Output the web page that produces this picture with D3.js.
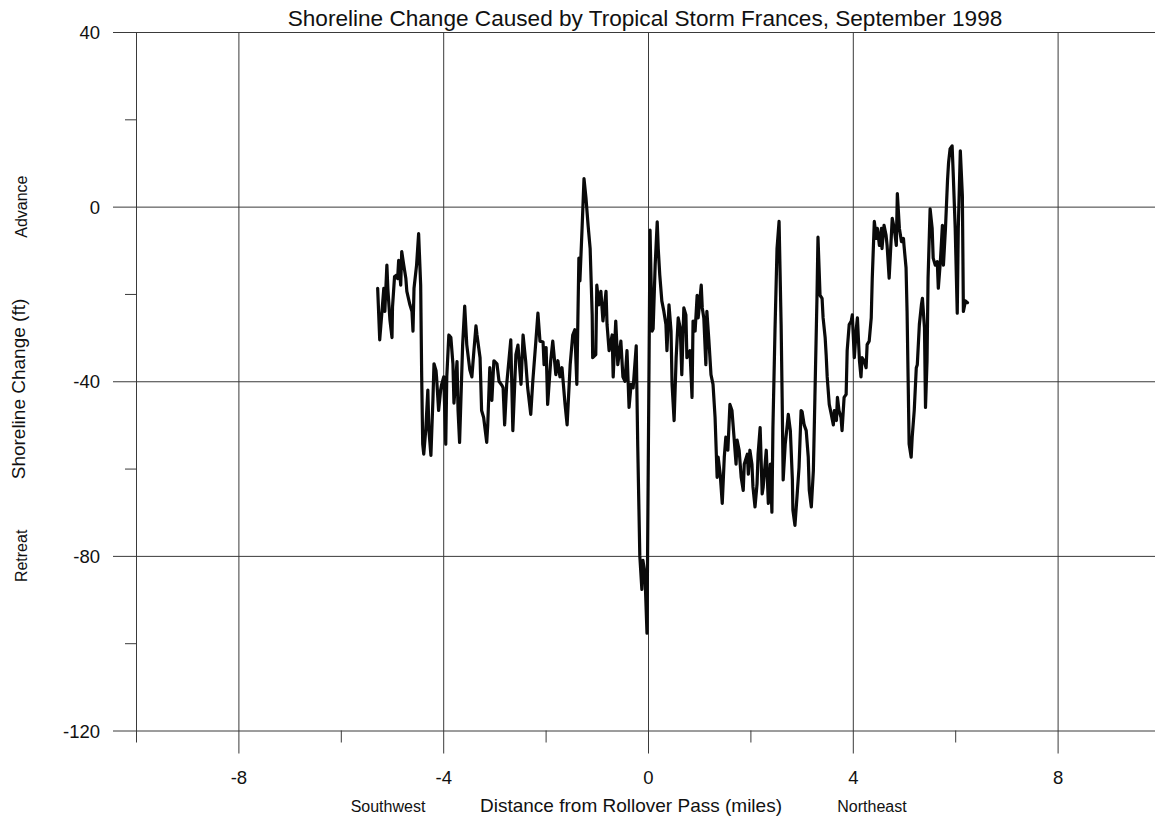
<!DOCTYPE html>
<html>
<head>
<meta charset="utf-8">
<script src="https://cdn.jsdelivr.net/npm/d3@7"></script>
<style>
  html, body { margin: 0; padding: 0; background: #ffffff; }
  svg { display: block; font-family: "Liberation Sans", Arial, Helvetica, sans-serif; }
</style>
</head>
<body>
<svg id="chart" width="1155" height="819"></svg>
<script>
// Shoreline change along the coast, measured from Rollover Pass
const milesFromPass = [
  -5.28,-5.24,-5.16,-5.14,-5.10,-5.08,-5.04,-5.00,-4.99,-4.95,
  -4.91,-4.89,-4.87,-4.83,-4.81,-4.77,-4.73,-4.71,-4.65,-4.61,
  -4.59,-4.57,-4.52,-4.48,-4.44,-4.42,-4.40,-4.38,-4.34,-4.30,
  -4.28,-4.24,-4.20,-4.18,-4.14,-4.13,-4.09,-4.05,-4.03,-3.99,
  -3.95,-3.93,-3.89,-3.85,-3.81,-3.79,-3.73,-3.71,-3.68,-3.64,
  -3.62,-3.58,-3.54,-3.48,-3.44,-3.40,-3.36,-3.34,-3.28,-3.25,
  -3.21,-3.15,-3.13,-3.09,-3.05,-3.01,-2.95,-2.91,-2.85,-2.83,
  -2.80,-2.76,-2.68,-2.64,-2.58,-2.54,-2.48,-2.44,-2.39,-2.35,
  -2.29,-2.25,-2.19,-2.15,-2.11,-2.05,-2.03,-1.99,-1.96,-1.90,
  -1.86,-1.80,-1.76,-1.72,-1.68,-1.62,-1.58,-1.52,-1.47,-1.43,
  -1.39,-1.37,-1.35,-1.33,-1.29,-1.25,-1.21,-1.17,-1.13,-1.09,
  -1.08,-1.02,-1.00,-0.96,-0.92,-0.88,-0.82,-0.80,-0.76,-0.70,
  -0.68,-0.63,-0.59,-0.53,-0.49,-0.45,-0.41,-0.37,-0.33,-0.29,
  -0.23,-0.20,-0.16,-0.12,-0.10,-0.06,-0.02,
  0.04,0.08,0.10,0.14,0.18,0.20,0.23,0.27,0.31,0.35,
  0.37,0.41,0.45,0.47,0.51,0.55,0.59,0.63,0.66,0.70,
  0.74,0.76,0.82,0.86,0.88,0.92,0.96,0.98,1.04,1.06,
  1.09,1.13,1.15,1.19,1.23,1.27,1.31,1.35,1.37,1.41,
  1.45,1.49,1.52,1.56,1.60,1.64,1.68,1.72,1.74,1.78,
  1.82,1.86,1.88,1.94,1.96,1.99,2.03,2.05,2.09,2.13,
  2.15,2.19,2.23,2.25,2.31,2.35,2.39,2.42,2.44,2.48,
  2.52,2.56,2.60,2.62,2.64,2.68,2.72,2.74,2.78,2.82,
  2.83,2.87,2.91,2.95,2.99,3.01,3.05,3.09,3.13,3.15,
  3.19,3.23,3.26,3.30,3.32,3.36,3.40,3.42,3.46,3.48,
  3.50,3.54,3.58,3.62,3.64,3.68,3.70,3.73,3.77,3.79,
  3.83,3.87,3.89,3.93,3.97,3.99,4.03,4.07,4.09,4.13,
  4.16,4.18,4.22,4.26,4.28,4.32,4.36,4.38,4.42,4.46,
  4.48,4.52,4.56,4.57,4.61,4.65,4.67,4.71,4.75,4.77,
  4.81,4.85,4.87,4.91,4.95,4.99,5.00,5.04,5.06,5.08,
  5.10,5.14,5.16,5.20,5.24,5.26,5.30,5.34,5.36,5.40,
  5.42,5.45,5.47,5.51,5.55,5.57,5.61,5.65,5.67,5.71,
  5.75,5.77,5.81,5.85,5.87,5.90,5.94,5.96,6.00,6.04,
  6.06,6.10,6.14,6.16,6.20,6.24
];

const shorelineChangeFt = [
  -18.7,-30.5,-18.7,-24,-13.4,-19,-26,-30,-23,-16,
  -15.7,-16.5,-12.3,-18,-10.3,-13.4,-16.4,-19.4,-22.5,-24,
  -28.5,-18.7,-13.4,-6.2,-18,-39,-54.4,-56.7,-51,-42,
  -51,-57,-44,-36,-37.6,-39,-46.7,-42,-40.7,-39,
  -54.4,-39,-29.4,-30,-36,-45,-35.5,-46.7,-54,-39,
  -31.6,-22.8,-31.6,-37.4,-39,-33,-27.3,-29.4,-34.6,-46.7,
  -48.3,-54,-50,-36.9,-44.4,-35.3,-36,-40,-41,-41.5,
  -50,-40.7,-30.5,-51.3,-33.9,-31.7,-40.7,-29.4,-35.3,-41.5,
  -47.6,-40,-30.8,-24.4,-30.8,-31,-36.2,-32.3,-45.3,-35.3,
  -30.8,-38.5,-35.3,-39,-36.9,-45.3,-50,-36.2,-29.4,-28.2,
  -40.7,-26.2,-11.8,-17,-5.7,6.4,1.8,-4.3,-9.6,-24.8,
  -34.6,-33.9,-18,-22.5,-19.4,-26.2,-19.4,-27,-33,-29.4,
  -39,-26.2,-36.2,-30.8,-39,-40,-33,-46,-40.7,-41.5,
  -31.9,-55,-80,-87.7,-81,-84,-97.7,
  -5.4,-28.5,-28,-13.4,-3.5,-9.6,-15.7,-21.6,-24,-27,
  -33,-22.5,-28.5,-40.7,-49,-34.6,-25.5,-27.8,-38.5,-23.2,
  -24.8,-34.6,-33,-43.7,-26.2,-28.5,-20.3,-25.5,-18,-23.2,
  -25.5,-36.2,-24,-30.8,-38.5,-40.7,-48.3,-62,-57.4,-61.3,
  -68,-57.4,-52.8,-55.8,-45.3,-46.7,-52.8,-59,-53.5,-55.8,
  -62,-65,-59,-56.7,-61.3,-55.8,-59,-64.2,-68.8,-63.5,
  -56.7,-50.6,-65.8,-64.2,-55.8,-68,-59,-70,-50.6,-28.5,
  -9.6,-3.4,-27,-43.7,-62.6,-54.4,-50,-47.6,-51.3,-62.6,
  -69.5,-73,-66.5,-59.7,-46.7,-47,-50,-51.3,-57.4,-65,
  -68.8,-60.4,-43.7,-21,-7,-20.3,-21,-25.5,-30,-34,
  -39,-45.3,-47.6,-50,-46.7,-49,-43.7,-46.7,-48.3,-51.3,
  -43.7,-43,-33,-27,-26.2,-24.8,-34.6,-27.8,-25.5,-35.3,
  -39,-34.6,-35.3,-36.9,-31.6,-30.8,-25.5,-16.4,-3.4,-7.3,
  -5,-8.9,-5,-9.6,-4.3,-6.6,-8.9,-16.4,-7.3,-2.7,
  -5,-8.9,3,-5,-8,-7.3,-8.9,-14,-24,-39,
  -54.4,-57.4,-52.8,-46.7,-36.9,-36.2,-27,-22.5,-21,-27.8,
  -46,-35.3,-16.4,-0.5,-5,-11.8,-13.4,-12.6,-18.7,-12.6,
  -4.3,-13.4,-5,6,10,13.2,13.9,8,-5,-24.4,
  -5,12.8,2.5,-24,-21.6,-22
];

// Axis ticks
const xMajorTicks = [-8, -4, 0, 4, 8];
const xMinorTicks = [-10, -6, -2, 2, 6, 10];
const yMajorTicks = [40, 0, -40, -80, -120];
const yMinorTicks = [20, -20, -60, -100];

const points = milesFromPass.map((m, i) => ({ m, ft: shorelineChangeFt[i] }));

const svg = d3.select("#chart");
const plot = { left: 136, right: 1160, top: 32, bottom: 730.5 };

const x = d3.scaleLinear().domain([-10, 10]).range([plot.left, plot.right]);
const y = d3.scaleLinear().domain([-120, 40]).range([plot.bottom, plot.top]);

const gridColor = "#3a3a3a";
const labelFont = "'Liberation Sans', Arial, sans-serif";
const plainNumber = d => String(d);   // hyphen-minus, as in the printed axis
const plotH = plot.bottom - plot.top;
const plotW = plot.right - plot.left;

// Horizontal grid lines with long major ticks and labels on the left
const yMajor = svg.append("g")
  .attr("transform", `translate(${plot.left},0)`)
  .call(d3.axisLeft(y).tickValues(yMajorTicks).tickSizeInner(-plotW).tickSizeOuter(0).tickPadding(36).tickFormat(plainNumber));
yMajor.select(".domain").remove();
yMajor.selectAll(".tick line").attr("x1", -23).attr("x2", plotW).attr("stroke", gridColor);
yMajor.selectAll(".tick text")
  .attr("fill", "#111")
  .style("font-size", "18.5px")
  .style("font-family", labelFont)
  .attr("dy", "0.36em");

// Minor y ticks
const yMinor = svg.append("g")
  .attr("transform", `translate(${plot.left},0)`)
  .call(d3.axisLeft(y).tickValues(yMinorTicks).tickSize(11).tickFormat(""));
yMinor.select(".domain").remove();
yMinor.selectAll(".tick line").attr("stroke", gridColor);

// Vertical grid lines with major ticks and labels below
const xMajor = svg.append("g")
  .attr("transform", `translate(0,${plot.bottom})`)
  .call(d3.axisBottom(x).tickValues(xMajorTicks).tickSizeInner(23).tickSizeOuter(0).tickPadding(17).tickFormat(plainNumber));
xMajor.select(".domain").remove();
xMajor.selectAll(".tick line").attr("y1", -plotH).attr("y2", 23).attr("stroke", gridColor);
xMajor.selectAll(".tick text")
  .attr("fill", "#111")
  .style("font-size", "18.5px")
  .style("font-family", labelFont);

// Minor x ticks; the outer ones also frame the plot
const xMinor = svg.append("g")
  .attr("transform", `translate(0,${plot.bottom})`)
  .call(d3.axisBottom(x).tickValues(xMinorTicks).tickSize(12).tickFormat(""));
xMinor.select(".domain").remove();
xMinor.selectAll(".tick line")
  .attr("stroke", gridColor)
  .attr("y1", d => (d === -10 || d === 10) ? -plotH : 0);

// Shoreline change trace
const line = d3.line().x(d => x(d.m)).y(d => y(d.ft));
svg.append("path")
  .datum(points)
  .attr("d", line)
  .attr("fill", "none")
  .attr("stroke", "#0a0a0a")
  .attr("stroke-width", 3.2)
  .attr("stroke-linejoin", "round")
  .attr("stroke-linecap", "round");

// Title
svg.append("text")
  .attr("x", 645).attr("y", 26)
  .attr("text-anchor", "middle")
  .style("font-size", "22.6px")
  .attr("fill", "#111")
  .text("Shoreline Change Caused by Tropical Storm Frances, September 1998");

// Axis titles
svg.append("text")
  .attr("x", 631).attr("y", 812)
  .attr("text-anchor", "middle")
  .style("font-size", "19px")
  .attr("fill", "#111")
  .text("Distance from Rollover Pass (miles)");

svg.append("text")
  .attr("x", 388).attr("y", 812)
  .attr("text-anchor", "middle")
  .style("font-size", "16px")
  .attr("fill", "#111")
  .text("Southwest");

svg.append("text")
  .attr("x", 872).attr("y", 812)
  .attr("text-anchor", "middle")
  .style("font-size", "16px")
  .attr("fill", "#111")
  .text("Northeast");

svg.append("text")
  .attr("transform", `translate(25,${389}) rotate(-90)`)
  .attr("text-anchor", "middle")
  .style("font-size", "19px")
  .attr("fill", "#111")
  .text("Shoreline Change (ft)");

svg.append("text")
  .attr("transform", `translate(27,${y(0)}) rotate(-90)`)
  .attr("text-anchor", "middle")
  .style("font-size", "16px")
  .attr("fill", "#111")
  .text("Advance");

svg.append("text")
  .attr("transform", `translate(27,${y(-80)}) rotate(-90)`)
  .attr("text-anchor", "middle")
  .style("font-size", "16px")
  .attr("fill", "#111")
  .text("Retreat");
</script>
</body>
</html>
